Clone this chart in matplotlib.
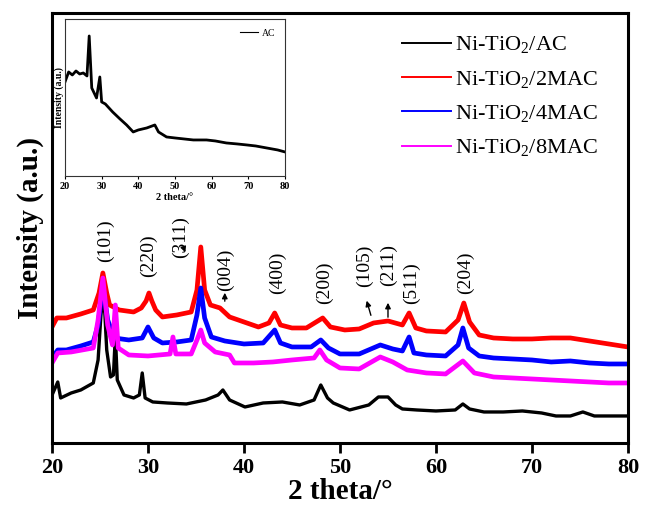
import matplotlib
matplotlib.use('Agg')
import matplotlib.pyplot as plt
import numpy as np

plt.rcParams['font.family'] = 'Liberation Serif'
plt.rcParams['mathtext.fontset'] = 'custom'
plt.rcParams['mathtext.rm'] = 'Liberation Serif'
plt.rcParams['mathtext.default'] = 'regular'

# XRD patterns (2theta in deg, intensity in a.u.)
ac_theta = [20.1, 20.6, 20.9, 22, 23, 24.3, 24.8, 25.1, 25.3, 25.5, 25.7, 26.1, 26.4, 26.6, 26.8,
            27.5, 28.5, 29.1, 29.4, 29.7, 30.5, 32, 34, 36, 37.3, 37.8, 38.5, 40.1, 42, 44, 45.8,
            47.3, 48, 48.7, 49.3, 51, 53, 54, 55, 55.8, 56.5, 58, 60, 62, 62.8, 63.5, 65, 67, 69,
            71, 72.5, 74, 75.3, 76.5, 78, 80]
ac_int = [50, 61, 45, 50, 53, 60, 83, 128, 146, 130, 93, 66, 68, 108, 63,
          48, 45, 48, 70, 45, 41, 40, 39, 43, 48, 53, 43, 36, 40, 41, 38,
          43, 58, 45, 40, 33, 38, 46, 46, 38, 34, 33, 32, 33, 39, 34, 31, 31, 32,
          30, 27, 27, 31, 27, 27, 27]

m2_theta = [20, 20.5, 21.5, 23, 24.3, 24.9, 25.3, 25.7, 26, 27, 28.5, 29.3, 29.8, 30.1, 30.4,
            30.8, 31.5, 33, 34.5, 35.1, 35.5, 35.9, 36.5, 37.5, 38.5, 40, 41.5, 42.6, 43.2, 43.8,
            45, 46.5, 48.2, 49, 50.5, 52, 53.5, 55, 56.5, 57.2, 57.9, 59, 61, 62.3, 62.9, 63.5,
            64.5, 66, 68, 70, 72, 74, 76, 78, 80]
m2_int = [116, 125, 125, 129, 133, 150, 170, 150, 138, 133, 131, 135, 142, 150, 142,
          133, 126, 128, 131, 153, 196, 153, 138, 135, 126, 121, 116, 120, 130, 118,
          115, 115, 125, 116, 113, 114, 120, 122, 118, 130, 115, 112, 111, 123, 140, 121,
          108, 105, 104, 104, 105, 105, 102, 99, 96]

m4_theta = [20, 20.6, 21.5, 23, 24.3, 24.8, 25.3, 25.8, 26.5, 28, 29.4, 30, 30.6, 31.5, 33, 34.5,
            35.1, 35.5, 35.9, 36.6, 38, 40, 42, 43.2, 43.8, 45, 47, 48, 48.8, 50, 52, 54.2, 55.5,
            56.5, 57.2, 57.7, 59, 61, 62.3, 62.8, 63.4, 64.5, 66, 68, 70, 72, 74, 76, 78, 80]
m4_int = [85, 93, 93, 97, 101, 118, 158, 123, 105, 103, 105, 116, 105, 100, 101, 103,
          128, 155, 125, 106, 102, 99, 100, 113, 100, 96, 96, 103, 95, 89, 89, 98, 94,
          92, 106, 90, 88, 87, 98, 115, 95, 87, 85, 84, 83, 81, 82, 80, 79, 79]

m8_theta = [20, 20.6, 22, 24.3, 24.8, 25.3, 25.8, 26.3, 26.6, 26.9, 28, 30, 32.3, 32.6, 32.9,
            34.5, 35.1, 35.5, 35.9, 37, 38.5, 39, 41, 43, 45, 47.3, 47.9, 48.6, 50, 52, 54.2,
            55.5, 57, 59, 61, 62.8, 64, 66, 68, 70, 72, 74, 76, 78, 80]
m8_int = [80, 90, 91, 95, 123, 165, 118, 98, 138, 95, 88, 87, 89, 106, 89,
          89, 103, 113, 100, 91, 88, 80, 80, 81, 83, 85, 93, 83, 75, 74, 86,
          81, 73, 70, 69, 82, 70, 66, 65, 64, 63, 62, 61, 60, 60]

series = [
    (ac_theta, ac_int, 'Ni-TiO$_2$/AC', 'black'),
    (m2_theta, m2_int, 'Ni-TiO$_2$/2MAC', 'red'),
    (m4_theta, m4_int, 'Ni-TiO$_2$/4MAC', 'blue'),
    (m8_theta, m8_int, 'Ni-TiO$_2$/8MAC', 'magenta'),
]

# peak labels: (text, 2theta, height)
peak_labels = [('(101)', 25.6, 202), ('(220)', 30.1, 187), ('(311)', 33.4, 206),
               ('(004)', 38.1, 173), ('(400)', 43.5, 170), ('(200)', 48.4, 160),
               ('(105)', 52.5, 177), ('(211)', 55.1, 178), ('(511)', 57.4, 160),
               ('(204)', 63.1, 170)]

# inset: pure AC pattern
inset_theta = [20, 21, 22, 23, 24, 25, 26, 26.6, 27.3, 28.6, 29.5, 30, 31, 33, 35, 36.8, 38.6,
               40, 42.3, 44.5, 45.5, 47.7, 50, 55, 58.6, 61, 64, 67, 69.6, 72, 75, 78, 80]
inset_int = [94, 104, 101, 105, 102, 103, 100, 140, 88, 78, 99, 74, 72, 64, 57, 51, 44,
             46, 48, 51, 44, 39, 38, 36, 36, 35, 33, 32, 31, 30, 28, 26, 24]

fig = plt.figure(figsize=(6.46, 5.13), dpi=100)
ax = fig.add_axes([0.0805, 0.1365, 0.8916, 0.8382])

for th, yv, lab, col in series:
    lw = 2.4 if col == 'black' else 3.4
    ax.plot(th, yv, color=col, lw=lw, label=lab, solid_joinstyle='round')

ax.set_xlim(20, 80)
ax.set_ylim(0, 430)
ax.set_yticks([])
ax.set_xticks(np.arange(20, 81, 10))
ax.tick_params(axis='x', direction='out', length=7, width=2, labelsize=16, pad=4)
for lbl in ax.get_xticklabels():
    lbl.set_fontweight('bold')
for sp in ax.spines.values():
    sp.set_linewidth(2.2)
ax.set_xlabel('2 theta/°', fontsize=21, fontweight='bold', labelpad=0)
ax.set_ylabel('Intensity (a.u.)', fontsize=21, fontweight='bold', labelpad=6)

for txt, xt, yt in peak_labels:
    ax.text(xt, yt, txt, rotation=90, ha='center', va='center', fontsize=14)

arrow_kw = dict(arrowstyle='-|>', color='black', lw=1, mutation_scale=8)
ax.annotate('', xy=(34.0, 188), xytext=(33.6, 198), arrowprops=arrow_kw)
ax.annotate('', xy=(38.0, 153), xytext=(38.0, 139), arrowprops=arrow_kw)
ax.annotate('', xy=(52.7, 145), xytext=(53.3, 125), arrowprops=arrow_kw)
ax.annotate('', xy=(55.0, 143), xytext=(55.0, 123), arrowprops=arrow_kw)

leg = ax.legend(loc='upper left', bbox_to_anchor=(0.607, 0.95), frameon=False, fontsize=16,
                handlelength=2.2, handletextpad=0.2, labelspacing=0.6, borderaxespad=0,
                borderpad=0)
for h in leg.legend_handles:
    h.set_linewidth(1.4)

# inset
axi = fig.add_axes([0.1006, 0.657, 0.3406, 0.306])
axi.plot(inset_theta, inset_int, color='black', lw=2, label='AC', solid_joinstyle='round')
axi.set_xlim(20, 80)
axi.set_ylim(0, 157)
axi.set_yticks([])
axi.set_xticks(np.arange(20, 81, 10))
axi.tick_params(axis='x', direction='out', length=2.5, width=0.8, labelsize=7.5, pad=2)
for lbl in axi.get_xticklabels():
    lbl.set_fontweight('bold')
for sp in axi.spines.values():
    sp.set_linewidth(0.8)
    sp.set_color('#333333')
axi.set_xlabel('2 theta/°', fontsize=7.5, fontweight='bold', labelpad=1)
axi.set_ylabel('Intensity (a.u.)', fontsize=7, fontweight='bold', labelpad=1)
ileg = axi.legend(loc='upper right', frameon=False, fontsize=7, handlelength=1.8,
                  handletextpad=0.4, borderaxespad=0.6)
for h in ileg.legend_handles:
    h.set_linewidth(0.8)

fig.savefig('out.png', dpi=100)
